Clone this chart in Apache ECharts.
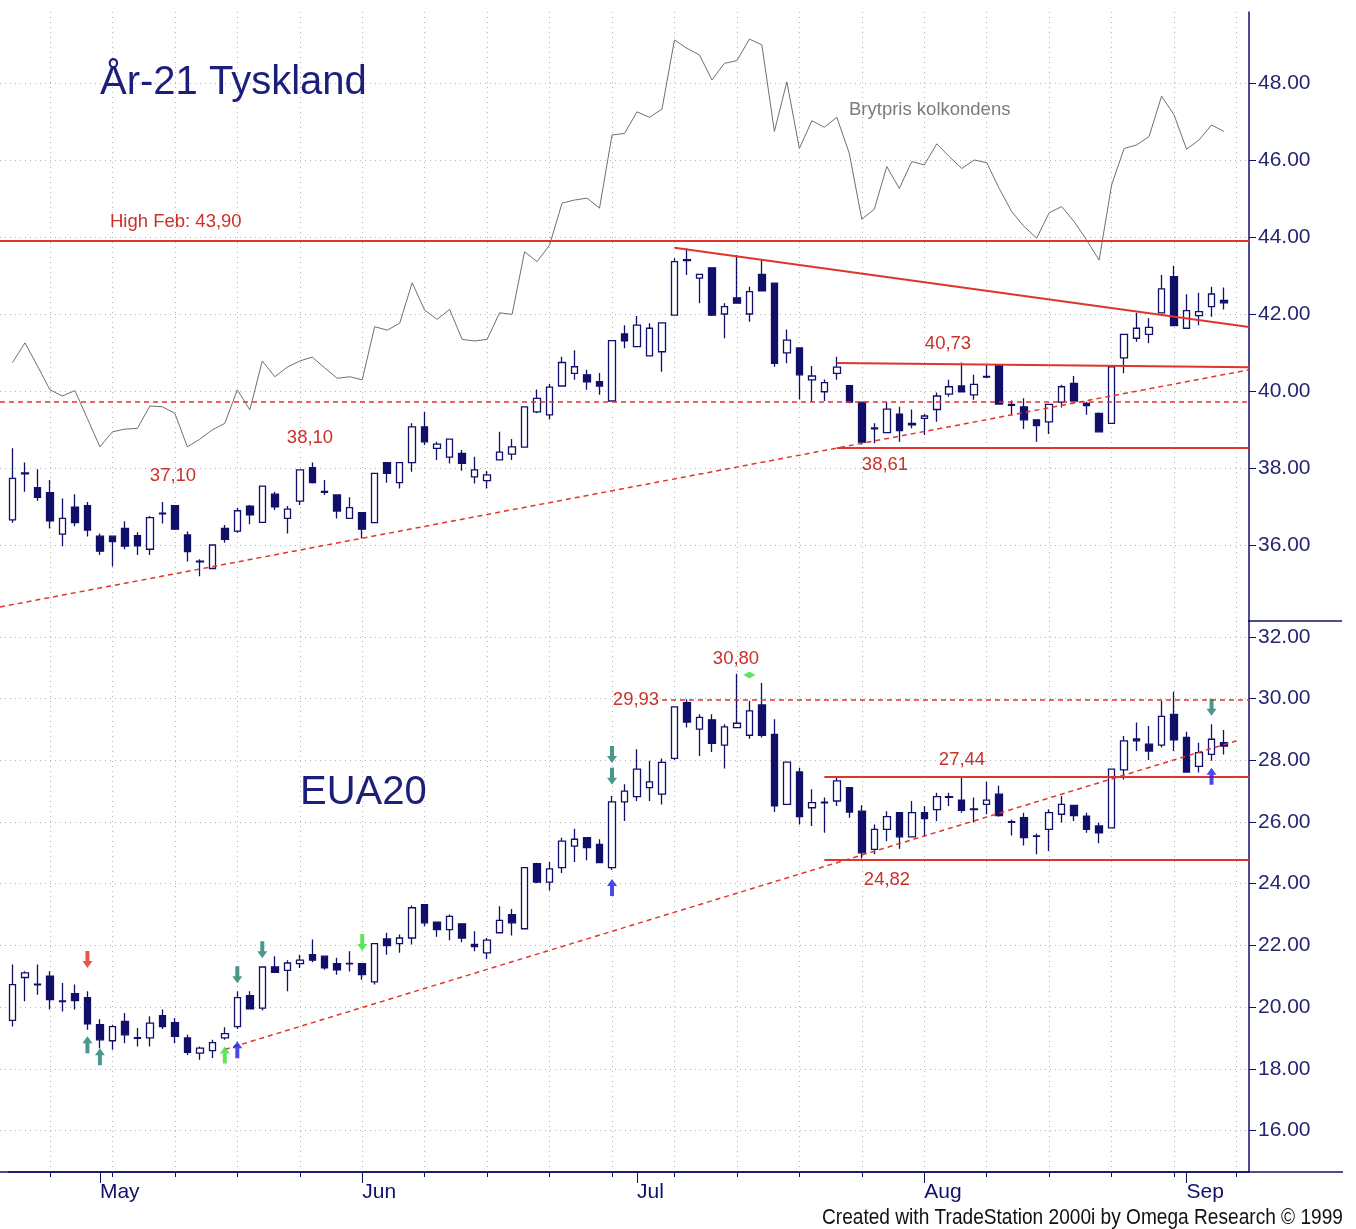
<!DOCTYPE html>
<html>
<head>
<meta charset="utf-8">
<script src="https://cdn.jsdelivr.net/npm/echarts@6/dist/echarts.min.js"></script>
<style>
html,body{margin:0;padding:0;background:#fff;}
#chart{width:1356px;height:1229px;}
</style>
</head>
<body>
<div id="chart"></div>
<script>
// handelsdagar 2020 (index 0 och de två sista är tomma)
var days = ['04-21','04-22','04-23','04-24','04-27','04-28','04-29','04-30',
  '05-01','05-04','05-05','05-06','05-07','05-08','05-11','05-12','05-13','05-14','05-15','05-18','05-19','05-20','05-21','05-22','05-25','05-26','05-27','05-28','05-29',
  '06-01','06-02','06-03','06-04','06-05','06-08','06-09','06-10','06-11','06-12','06-15','06-16','06-17','06-18','06-19','06-22','06-23','06-24','06-25','06-26','06-29','06-30',
  '07-01','07-02','07-03','07-06','07-07','07-08','07-09','07-10','07-13','07-14','07-15','07-16','07-17','07-20','07-21','07-22','07-23','07-24','07-27','07-28','07-29','07-30','07-31',
  '08-03','08-04','08-05','08-06','08-07','08-10','08-11','08-12','08-13','08-14','08-17','08-18','08-19','08-20','08-21','08-24','08-25','08-26','08-27','08-28','08-31',
  '09-01','09-02','09-03','09-04','09-07','09-08'];
var monthNames = {'05-01':'May','06-01':'Jun','07-01':'Jul','08-03':'Aug','09-01':'Sep'};

// År-21 Tyskland  [open, close, low, high]
var ar21 = [
  [36.65,37.73,36.58,38.51],[37.85,37.87,37.38,38.14],[37.49,37.24,37.15,37.97],[37.36,36.63,36.43,37.69],[36.28,36.69,35.97,37.21],
  [36.98,36.58,36.49,37.32],[37.02,36.39,36.22,37.12],[36.23,35.84,35.74,36.30],[36.23,36.09,35.44,36.23],[36.43,35.97,35.89,36.62],
  [36.24,35.98,35.74,36.33],[35.89,36.71,35.74,36.75],[36.81,36.83,36.56,37.12],[37.02,36.41,36.39,37.04],[36.26,35.83,35.57,36.35],
  [35.56,35.58,35.19,35.63],[35.39,36.00,35.39,36.00],[36.43,36.15,36.06,36.52],[36.36,36.89,36.31,36.96],[37.01,36.78,36.54,37.04],
  [36.59,37.53,36.59,37.53],[37.32,36.99,36.91,37.38],[36.69,36.93,36.30,37.01],[37.14,37.95,37.04,37.95],[38.01,37.62,37.60,38.14],
  [37.37,37.39,37.30,37.69],[37.30,36.88,36.69,37.30],[36.69,36.97,36.69,37.24],[36.84,36.41,36.17,36.84],[36.58,37.86,36.58,37.86],
  [38.14,37.86,37.62,38.14],[37.62,38.14,37.47,38.14],[38.14,39.07,37.90,39.16],[39.07,38.68,38.60,39.46],[38.51,38.62,38.21,38.68],
  [38.28,38.75,38.12,38.75],[38.38,38.12,37.93,38.47],[37.77,37.95,37.60,38.29],[37.67,37.82,37.47,37.92],[38.21,38.41,38.21,38.94],
  [38.36,38.55,38.21,38.75],[38.54,39.59,38.54,39.59],[39.46,39.81,39.42,40.04],[39.38,40.10,39.26,40.18],[40.13,40.74,40.13,40.89],
  [40.46,40.63,40.29,41.06],[40.42,40.24,40.03,40.55],[40.24,40.13,39.90,40.47],[39.74,41.31,39.74,41.31],[41.48,41.30,41.11,41.71],
  [41.15,41.71,41.15,41.95],[40.91,41.63,40.91,41.76],[41.02,41.77,40.50,41.77],[41.97,43.36,41.97,43.45],[43.39,43.41,43.01,43.71],
  [42.93,43.03,42.28,43.03],[43.20,41.97,41.95,43.20],[42.00,42.19,41.37,42.28],[42.42,42.28,42.28,43.53],[42.00,42.58,41.80,42.71],
  [43.03,42.60,42.60,43.42],[42.80,40.72,40.63,42.80],[40.99,41.32,40.72,41.60],[41.12,40.42,39.78,41.12],[40.29,40.39,39.72,40.65],
  [39.98,40.22,39.74,40.30],[40.46,40.62,40.29,40.89],[40.14,39.71,39.68,40.14],[39.71,38.67,38.61,39.71],[39.02,39.04,38.64,39.16],
  [38.92,39.53,38.92,39.72],[39.40,38.97,38.68,39.59],[39.16,39.12,39.03,39.52],[39.29,39.35,38.86,39.40],[39.52,39.87,39.20,39.96],
  [39.92,40.11,39.85,40.29],[40.13,39.98,39.98,40.74],[39.90,40.17,39.77,40.42],[40.36,40.38,40.33,40.68],[40.68,39.66,39.66,40.68],
  [39.63,39.65,39.38,39.75],[39.59,39.25,39.01,39.81],[39.25,39.10,38.68,39.25],[39.20,39.65,38.88,39.65],[39.71,40.11,39.57,40.16],
  [40.20,39.74,39.74,40.39],[39.68,39.62,39.38,39.72],[39.42,38.94,38.92,39.44],[39.16,40.63,39.16,40.63],[40.86,41.47,40.46,41.47],
  [41.37,41.63,41.28,42.03],[41.47,41.65,41.24,41.89],[42.03,42.65,42.03,43.01],[42.97,41.70,41.70,43.25],[41.63,42.09,41.63,42.51],
  [41.96,42.06,41.71,42.55],[42.19,42.52,41.93,42.71],[42.35,42.29,42.12,42.69]
];

// EUA20  [open, close, low, high]
var eua20 = [
  [19.57,20.73,19.37,21.38],[20.96,21.11,20.19,21.16],[20.72,20.74,20.40,21.38],[21.00,20.24,19.92,21.16],[20.18,20.20,19.86,20.78],
  [20.44,20.21,19.92,20.73],[20.31,19.46,19.27,20.51],[19.43,18.94,18.67,19.61],[18.91,19.37,18.62,19.43],[19.54,19.10,18.83,19.81],
  [18.99,19.01,18.72,19.32],[19.00,19.48,18.72,19.70],[19.72,19.37,19.29,19.92],[19.50,19.05,18.83,19.65],[19.00,18.53,18.45,19.10],
  [18.51,18.67,18.29,18.72],[18.59,18.85,18.35,18.94],[19.00,19.14,18.94,19.35],[19.37,20.31,19.29,20.51],[20.37,19.94,19.92,20.51],
  [19.97,21.30,19.89,21.30],[21.30,21.13,21.11,21.65],[21.19,21.43,20.51,21.52],[21.41,21.52,21.27,21.70],[21.70,21.52,21.45,22.19],
  [21.65,21.27,21.21,21.65],[21.41,21.21,21.05,21.60],[21.40,21.42,21.15,21.81],[21.41,21.05,20.89,21.41],[20.82,22.06,20.73,22.06],
  [22.21,21.99,21.70,22.41],[22.06,22.24,21.76,22.35],[22.24,23.22,22.03,23.29],[23.32,22.73,22.62,23.32],[22.75,22.51,22.28,22.75],
  [22.51,22.94,22.17,23.00],[22.70,22.24,22.10,22.70],[22.03,21.96,21.81,22.46],[21.76,22.17,21.56,22.24],[22.41,22.81,22.41,23.27],
  [23.00,22.73,22.32,23.18],[22.54,24.52,22.54,24.52],[24.65,24.05,24.01,24.68],[24.05,24.48,23.78,24.70],[24.52,25.38,24.35,25.49],
  [25.22,25.44,24.70,25.78],[25.49,25.17,24.76,25.49],[25.27,24.68,24.68,25.44],[24.52,26.65,24.44,26.84],[26.65,27.00,26.03,27.22],
  [26.82,27.71,26.68,28.36],[27.11,27.30,26.68,27.98],[26.90,27.93,26.57,28.06],[28.06,29.73,28.01,29.73],[29.87,29.24,29.06,29.98],
  [29.01,29.39,28.14,29.49],[29.31,28.55,28.27,29.49],[28.49,29.08,27.73,29.17],[29.06,29.20,29.06,30.80],[28.81,29.60,28.70,29.93],
  [29.79,28.81,28.74,30.50],[28.84,26.52,26.32,29.33],[26.57,27.94,26.57,27.94],[27.62,26.17,25.92,27.76],[26.46,26.63,25.87,27.06],
  [26.62,26.64,25.65,26.79],[26.68,27.33,26.52,27.47],[27.11,26.32,26.14,27.11],[26.35,25.00,24.82,26.54],[25.11,25.76,24.95,25.92],
  [25.76,26.17,25.38,26.35],[26.30,25.52,25.13,26.30],[25.52,26.30,25.52,26.68],[26.30,26.11,25.54,26.52],[26.40,26.82,26.03,26.95],
  [26.80,26.82,26.52,26.95],[26.71,26.38,26.30,27.49],[26.42,26.40,25.98,26.79],[26.57,26.71,26.25,27.30],[26.90,26.21,26.17,27.17],
  [25.99,26.01,25.56,26.08],[26.14,25.49,25.24,26.30],[25.53,25.55,24.95,25.63],[25.76,26.30,25.06,26.41],[26.25,26.57,25.98,26.84],
  [26.54,26.21,26.03,26.54],[26.19,25.76,25.65,26.30],[25.87,25.65,25.31,25.98],[25.81,27.71,25.81,27.71],[27.69,28.63,27.38,28.79],
  [28.69,28.63,28.30,29.22],[28.52,28.30,28.01,29.11],[28.49,29.42,28.41,29.93],[29.49,28.66,28.30,30.22],[28.74,27.62,27.60,28.92],
  [27.80,28.25,27.60,28.57],[28.19,28.68,27.98,29.17],[28.57,28.46,28.19,28.98]
];

// Brytpris kolkondens (ritad i övre panelens skala)
var brytpris = [40.74,41.25,40.65,40.03,39.87,40.01,39.28,38.55,38.94,39.01,
  39.03,39.61,39.59,39.42,38.55,38.75,38.99,39.16,40.03,39.51,
  40.78,40.37,40.62,40.78,40.88,40.60,40.33,40.37,40.29,41.67,
  41.58,41.76,42.81,42.10,41.86,42.12,41.34,41.30,41.34,42.03,
  41.99,43.62,43.36,43.79,44.88,44.96,45.01,44.75,46.65,46.69,
  47.25,47.11,47.32,49.12,48.90,48.73,48.08,48.51,48.58,49.14,
  48.99,46.74,48.03,46.30,47.02,46.85,47.11,46.17,44.46,44.72,
  45.83,45.26,45.96,45.87,46.42,46.09,45.78,46.00,45.93,45.26,
  44.66,44.27,43.97,44.63,44.79,44.40,43.92,43.40,45.35,46.30,
  46.39,46.61,47.66,47.17,46.28,46.52,46.91,46.74];

// pilar i EUA20-panelen [dagindex, nivå]
var tealUp = [[7,18.78],[8,18.39]];
var tealDown = [[19,21.05],[21,21.86],[49,28.19],[49,27.48],[97,29.72]];
var greenUp = [[18,18.45]];
var greenDown = [[29,22.09]];
var blueUp = [[19,18.62],[49,23.88],[97,27.48]];
var redDown = [[7,21.54]];
var greenMark = [[60,30.76]];

var navy = '#10106a';
var red = '#e0352c';
var redTxt = '#c8322a';
var font = '"Liberation Sans", Arial, sans-serif';

var solid = {color: red, width: 2, type: 'solid'};
var dashed = {color: red, width: 1.5, type: [5, 4]};
function seg(x1, y1, x2, y2, st) {
  return [{coord: [x1, y1], lineStyle: st}, {coord: [x2, y2]}];
}

var topLines = [
  seg(0, 43.90, 100, 43.90, solid),
  seg(0, 39.71, 100, 39.71, dashed),
  seg(0, 34.39, 100, 40.55, dashed),
  seg(54, 43.72, 100, 41.66, solid),
  seg(67, 40.73, 100, 40.62, solid),
  seg(67, 38.52, 100, 38.52, solid)
];
var botLines = [
  seg(53, 29.97, 100, 29.97, dashed),
  seg(66, 27.48, 100, 27.48, solid),
  seg(66, 24.79, 100, 24.79, solid),
  seg(18, 18.63, 99, 28.63, dashed)
];

var upArrow = 'path://M5,0 L10,7 L7,7 L7,17 L3,17 L3,7 L0,7 Z';
var downArrow = 'path://M3,0 L7,0 L7,10 L10,10 L5,17 L0,10 L3,10 Z';

function withIndex(arr) {
  return arr.map(function (d, i) { return [i + 1].concat(d); });
}

function weekly(index) { return index % 5 === 4; }
function monthStart(index, value) { return monthNames[value] !== undefined; }

function xAx(grid, isBottom) {
  return {
    type: 'category', gridIndex: grid, data: days, boundaryGap: false,
    axisLine: {show: isBottom, lineStyle: {color: navy, width: 1.5}},
    axisTick: {show: isBottom, interval: weekly, length: 5, lineStyle: {color: navy}},
    axisLabel: {show: isBottom, interval: monthStart, align: 'left', margin: 10,
      formatter: function (v) { return monthNames[v] || ''; },
      color: navy, fontSize: 21, fontFamily: font},
    splitLine: {show: true, interval: weekly, lineStyle: {color: '#b4b4b4', type: [1, 4]}}
  };
}
function yAx(grid, min, max) {
  return {
    type: 'value', gridIndex: grid, position: 'right', min: min, max: max,
    minInterval: 2, maxInterval: 2,
    axisLine: {show: true, lineStyle: {color: navy, width: 1.5}},
    axisTick: {show: true, length: 7, lineStyle: {color: navy}},
    axisLabel: {margin: 9, color: '#26266e', fontSize: 21, fontFamily: font,
      showMinLabel: false, showMaxLabel: false,
      formatter: function (v) { return v.toFixed(2); }},
    splitLine: {show: true, showMinLine: false, showMaxLine: false,
      lineStyle: {color: '#b4b4b4', type: [1, 4]}}
  };
}

function arrows(name, data, sym, color, size) {
  return {
    name: name, type: 'scatter', xAxisIndex: 1, yAxisIndex: 1, data: data,
    symbol: sym, symbolSize: size || [10, 17], itemStyle: {color: color}, z: 5, silent: true
  };
}

function txt(s, x, y, size, fill, align) {
  return {type: 'text', x: x, y: y, silent: true, z: 100,
    style: {text: s, fill: fill, font: size + 'px ' + font, align: align || 'center', verticalAlign: 'middle'}};
}

// copyright-raden är smal i originalet, krymp den till ca 521 px bredd
var credit = 'Created with TradeStation 2000i by Omega Research © 1999';
var ctx = document.createElement('canvas').getContext('2d');
ctx.font = '22px ' + font;
var creditScale = 521 / ctx.measureText(credit).width;
var creditText = txt(credit, 1343, 1218, 22, '#111111', 'right');
creditText.scaleX = creditScale;

var candleStyle = {color: '#ffffff', color0: navy, borderColor: navy, borderColor0: navy, borderWidth: 1.3};

var chart = echarts.init(document.getElementById('chart'));
chart.setOption({
  animation: false,
  backgroundColor: '#fff',
  grid: [
    {left: 0, width: 1249, top: 12, height: 609},
    {left: 0, width: 1249, top: 621, height: 551}
  ],
  xAxis: [
    xAx(0, false),
    xAx(1, true),
    {type: 'category', gridIndex: 1, data: days, boundaryGap: false, position: 'bottom',
      axisLine: {show: false}, axisLabel: {show: false}, splitLine: {show: false},
      axisTick: {show: true, interval: monthStart, length: 11, lineStyle: {color: navy}}}
  ],
  yAxis: [
    yAx(0, 34.026, 49.844),
    yAx(1, 14.656, 32.513)
  ],
  series: [
    {
      name: 'Brytpris kolkondens', type: 'line', xAxisIndex: 0, yAxisIndex: 0,
      data: withIndex(brytpris), showSymbol: false, symbol: 'none', z: 1,
      lineStyle: {color: '#707070', width: 1}
    },
    {
      name: 'År-21 Tyskland', type: 'candlestick', xAxisIndex: 0, yAxisIndex: 0,
      data: withIndex(ar21), encode: {x: 0, y: [1, 2, 3, 4]}, barWidth: 7,
      itemStyle: candleStyle, z: 3,
      markLine: {silent: true, symbol: ['none', 'none'], label: {show: false}, data: topLines}
    },
    {
      name: 'EUA20', type: 'candlestick', xAxisIndex: 1, yAxisIndex: 1,
      data: withIndex(eua20), encode: {x: 0, y: [1, 2, 3, 4]}, barWidth: 7,
      itemStyle: candleStyle, z: 3,
      markLine: {silent: true, symbol: ['none', 'none'], label: {show: false}, data: botLines}
    },
    arrows('tealUp', tealUp, upArrow, '#1f7d6e'),
    arrows('tealDown', tealDown, downArrow, '#1f7d6e'),
    arrows('greenUp', greenUp, upArrow, '#36e036'),
    arrows('greenDown', greenDown, downArrow, '#36e036'),
    arrows('blueUp', blueUp, upArrow, '#1c1ce8'),
    arrows('redDown', redDown, downArrow, '#e8281e'),
    arrows('greenMark', greenMark, 'diamond', '#36e036', [12, 7])
  ],
  graphic: [
    {type: 'line', silent: true, shape: {x1: 1248, y1: 621, x2: 1342, y2: 621}, style: {stroke: navy, lineWidth: 1.5}},
    {type: 'line', silent: true, shape: {x1: 8, y1: 1172, x2: 1343, y2: 1172}, style: {stroke: navy, lineWidth: 1.5}},
    txt('År-21 Tyskland', 100, 83, 40, '#1b1f7a', 'left'),
    txt('EUA20', 300, 793, 40, '#1b1f7a', 'left'),
    txt('Brytpris kolkondens', 849, 110, 18.5, '#7c7c7c', 'left'),
    txt('High Feb: 43,90', 110, 222, 18.5, redTxt, 'left'),
    txt('37,10', 173, 476, 18.5, redTxt),
    txt('38,10', 310, 438, 18.5, redTxt),
    txt('40,73', 948, 344, 18.5, redTxt),
    txt('38,61', 885, 465, 18.5, redTxt),
    txt('30,80', 736, 659, 18.5, redTxt),
    txt('29,93', 636, 700, 18.5, redTxt),
    txt('27,44', 962, 760, 18.5, redTxt),
    txt('24,82', 887, 880, 18.5, redTxt),
    creditText
  ]
});
</script>
</body>
</html>
